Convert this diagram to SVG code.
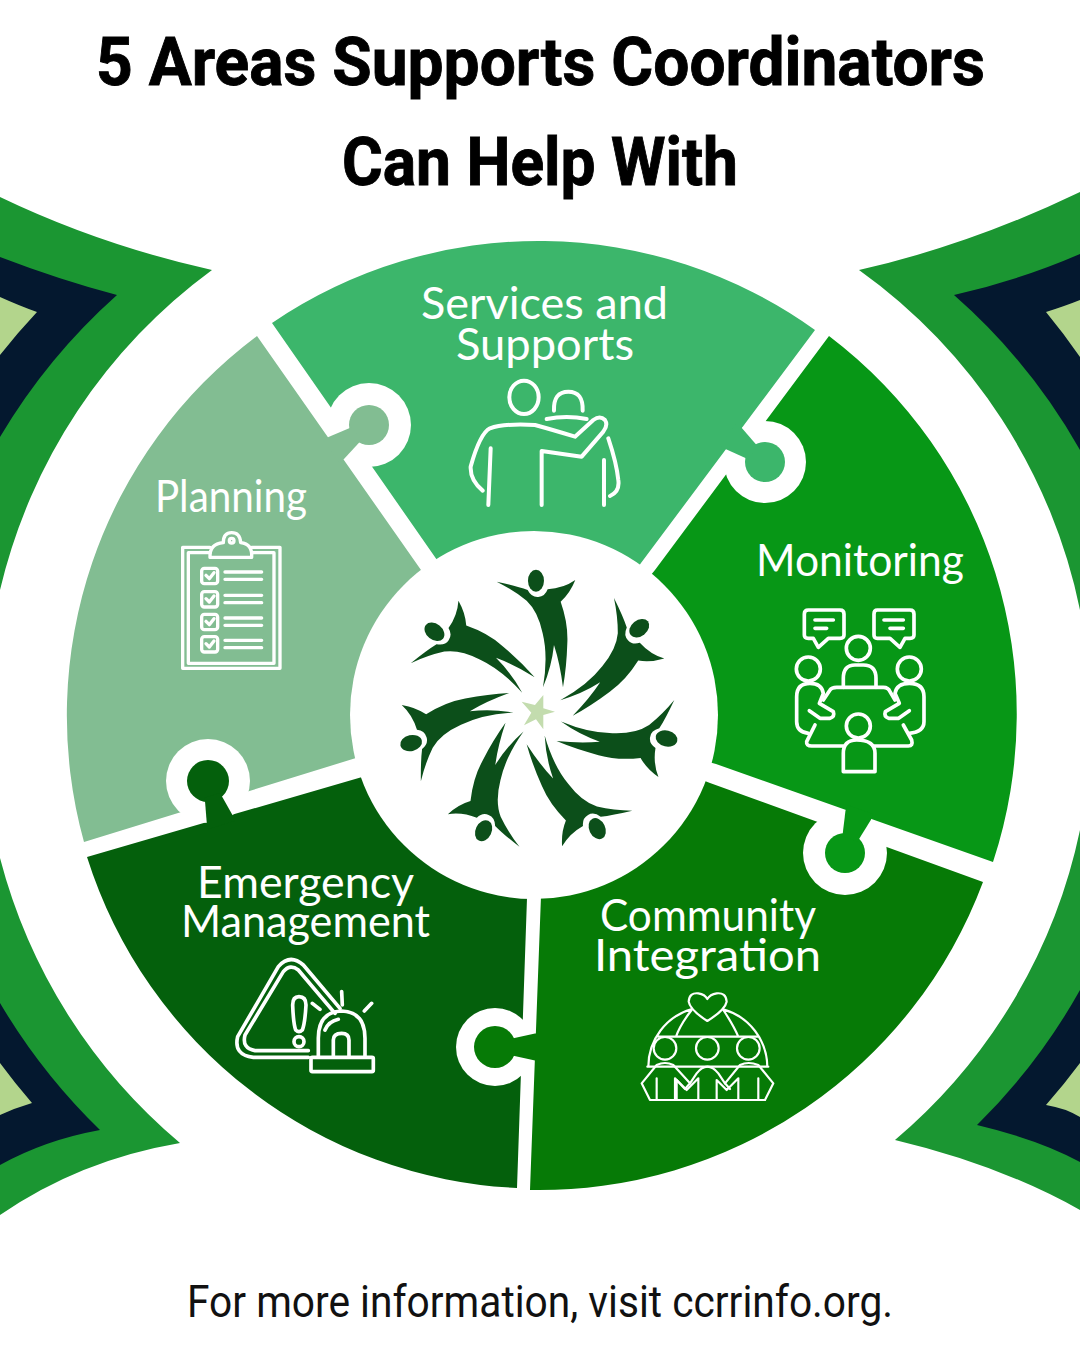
<svg xmlns="http://www.w3.org/2000/svg" xmlns:xlink="http://www.w3.org/1999/xlink" width="1080" height="1350" viewBox="0 0 1080 1350">
<style>
.title{font-family:"Roboto","Liberation Sans",sans-serif;font-weight:700;font-size:67px;fill:#000;stroke:#000;stroke-width:.9}
.foot{font-family:"Roboto","Liberation Sans",sans-serif;font-size:45px;fill:#111}
.lab{font-family:"Lato","Open Sans",sans-serif;font-size:45px;fill:#fff}
.ic{fill:none;stroke:#fff;stroke-linecap:round;stroke-linejoin:round}
.g{fill:#1b9632}.n{fill:#04182f}.p{fill:#b3d58c}
.person{fill:#0c4f1a}
</style>
<defs>
<g id="fig"><ellipse cx="558" cy="152" rx="24" ry="33"/><path d="M440,155Q500,168 533,180Q545,203 565,201Q585,200 593,178Q640,175 676,150Q660,190 632,215Q655,280 652,340Q650,410 639,472Q630,400 612,345Q605,410 579,472Q595,380 578,310Q565,245 530,212Q490,180 440,155Z"/></g>
<g id="row"><rect x="95" y="145" width="48" height="46" rx="8"/><path d="M108,166L118,176L132,158"/><path d="M165,156H275M165,178H275"/></g>
<path id="neck" d="M15,-8L40,-13.5H46V13.5H40L15,8Z"/>
</defs>
<g id="corners">
<path class="g" d="M0,197Q100,245 212,270A555,555 0 0 0 0,590Z"/>
<path class="n" d="M0,257Q60,280 117,295A600,600 0 0 0 0,437Z"/>
<path class="p" d="M0,297Q20,306 37,312A648,648 0 0 0 0,355Z"/>
<path class="g" d="M0,858A555,555 0 0 0 180,1143Q80,1160 0,1215Z"/>
<path class="n" d="M0,1003A608,608 0 0 0 100,1130Q45,1140 0,1165Z"/>
<path class="p" d="M0,1063A640,640 0 0 0 32,1103Q15,1108 0,1115Z"/>
<path class="g" d="M1080,192Q970,245 859,270A555,555 0 0 1 1080,610Z"/>
<path class="n" d="M1080,254Q1020,280 954,295A596,596 0 0 1 1080,450Z"/>
<path class="p" d="M1080,300Q1065,306 1046,312A647,647 0 0 1 1080,357Z"/>
<path class="g" d="M1080,830A555,555 0 0 1 895,1140Q1000,1165 1080,1210Z"/>
<path class="n" d="M1080,990A600,600 0 0 1 977,1125Q1040,1140 1080,1162Z"/>
<path class="p" d="M1080,1063A640,640 0 0 1 1046,1105Q1065,1108 1080,1117Z"/>
</g>
<g id="connectors">
</g>
<g id="node-services"><path fill="#3cb66b" d="M272,323A474,474 0 0 1 815,330L641,563L535,715L437,560Z"/></g>
<g id="node-monitoring"><path fill="#079716" d="M829,336A474,474 0 0 1 993,862L716,764L535,715L655,570Z"/></g>
<g id="node-community"><path fill="#067a06" d="M983,882A474,474 0 0 1 530,1190L541,896L535,715L710,783Z"/></g>
<g id="node-emergency"><path fill="#04600c" d="M517,1188A474,474 0 0 1 87,857L369,775L535,715L527,898Z"/></g>
<g id="node-planning"><path fill="#82bd92" d="M84,842A474,474 0 0 1 257,336L421,570L535,715L356,758Z"/></g>
<g id="tabs">
<circle cx="369" cy="425" r="42" fill="#fff"/><circle cx="765" cy="462" r="41" fill="#fff"/><circle cx="845" cy="853" r="42" fill="#fff"/><circle cx="495" cy="1047" r="39" fill="#fff"/><circle cx="208" cy="781" r="42" fill="#fff"/>
<g fill="#82bd92"><circle cx="369" cy="425" r="20"/><use xlink:href="#neck" href="#neck" transform="translate(369,425) rotate(145)"/></g>
<g fill="#3cb66b"><circle cx="765" cy="462" r="20"/><use xlink:href="#neck" href="#neck" transform="translate(765,462) rotate(217)"/></g>
<g fill="#079716"><circle cx="845" cy="853" r="20"/><use xlink:href="#neck" href="#neck" transform="translate(845,853) rotate(-70.7)"/></g>
<g fill="#067a06"><circle cx="495" cy="1047" r="21"/><use xlink:href="#neck" href="#neck" transform="translate(495,1047)"/></g>
<g fill="#04600c"><circle cx="208" cy="781" r="21"/><use xlink:href="#neck" href="#neck" transform="translate(208,781) rotate(73)"/></g>
</g>
<g id="node-hub">
<circle cx="534" cy="715" r="184" fill="#fff"/>
<g transform="translate(350,530) scale(.3333)" class="person">
<use xlink:href="#fig" href="#fig"/>
<use xlink:href="#fig" href="#fig" transform="rotate(51.43 565 545)"/>
<use xlink:href="#fig" href="#fig" transform="rotate(102.86 565 545)"/>
<use xlink:href="#fig" href="#fig" transform="rotate(154.29 565 545)"/>
<use xlink:href="#fig" href="#fig" transform="rotate(205.71 565 545)"/>
<use xlink:href="#fig" href="#fig" transform="rotate(257.14 565 545)"/>
<use xlink:href="#fig" href="#fig" transform="rotate(308.57 565 545)"/>
<path fill="#c3dcae" d="M580,495L580,535L615,545L580,555L580,598L558,568L522,586L544,548L515,515L555,525Z"/>
</g>
</g>
<text class="title" x="96" y="85" textLength="889" lengthAdjust="spacingAndGlyphs">5 Areas Supports Coordinators</text>
<text class="title" x="342" y="185" textLength="396" lengthAdjust="spacingAndGlyphs">Can Help With</text>
<text class="foot" x="187" y="1317" textLength="706" lengthAdjust="spacingAndGlyphs">For more information, visit ccrrinfo.org.</text>
<g id="label-services">
<text class="lab" x="421" y="319" textLength="247" lengthAdjust="spacingAndGlyphs">Services and</text>
<text class="lab" x="456" y="360" textLength="178" lengthAdjust="spacingAndGlyphs">Supports</text>
<g class="ic" transform="translate(450,370) scale(.3333)" stroke-width="12">
<ellipse cx="222" cy="82" rx="44" ry="50"/>
<path d="M312,122Q310,65 355,65Q400,65 398,122M290,147Q350,135 410,147"/>
<path d="M98,362Q60,330 62,290Q90,190 120,175Q160,160 255,165Q310,180 375,200L430,150Q450,135 465,150Q475,165 460,185L395,260L275,243V405"/>
<path d="M122,235L115,405M475,205Q500,280 505,330Q510,365 480,378M462,270V405"/>
</g>
</g>
<g id="label-planning">
<text class="lab" x="155" y="512" textLength="152" lengthAdjust="spacingAndGlyphs">Planning</text>
<g class="ic" transform="translate(170,520) scale(.3333)" stroke-width="10">
<path d="M120,82H38V445H330V82H245M120,98H55V430H312V98H245"/>
<path d="M120,112Q118,72 160,68Q160,38 185,38Q210,38 212,68Q248,72 245,112Z"/>
<circle cx="185" cy="62" r="7"/>
<use xlink:href="#row" href="#row"/>
<use xlink:href="#row" href="#row" y="70"/>
<use xlink:href="#row" href="#row" y="138"/>
<use xlink:href="#row" href="#row" y="205"/>
</g>
</g>
<g id="label-monitoring">
<text class="lab" x="756" y="576" textLength="208" lengthAdjust="spacingAndGlyphs">Monitoring</text>
<g class="ic" transform="translate(780,600) scale(.3333)" stroke-width="11">
<path d="M85,30H180Q192,30 192,42V105Q192,115 180,115H145L115,142L100,115H85Q73,115 73,105V42Q73,30 85,30ZM105,60H160M105,85H140"/>
<path d="M292,30H390Q402,30 402,42V105Q402,115 390,115H375L360,142L330,115H292Q282,115 282,105V42Q282,30 292,30ZM312,60H370M330,85H370"/>
<circle cx="235" cy="145" r="36"/><circle cx="85" cy="207" r="36"/><circle cx="388" cy="207" r="36"/><circle cx="235" cy="378" r="36"/>
<path d="M190,262V235Q190,195 225,195H250Q288,195 288,235V262"/>
<path d="M130,300L150,270Q155,262 170,262H310Q325,262 330,275L345,300M105,375L80,425Q78,438 95,438H190M280,438H385Q400,438 395,420L370,375"/>
<path d="M85,400Q50,395 50,365V290Q50,250 90,250Q125,250 130,280L118,310L160,335Q165,350 150,355H120L88,332"/>
<path d="M388,400Q432,395 432,365V290Q432,250 388,250Q350,250 345,280L358,310L316,335Q311,350 326,355H356L388,332"/>
<path d="M190,515V460Q190,420 230,420Q285,420 285,460V515Z"/>
</g>
</g>
<g id="label-community">
<text class="lab" x="600" y="931" textLength="216" lengthAdjust="spacingAndGlyphs">Community</text>
<text class="lab" x="594" y="971" textLength="227" lengthAdjust="spacingAndGlyphs">Integration</text>
<g class="ic" transform="translate(630,985) scale(.3333)" stroke-width="6.5">
<path d="M232,108Q180,75 176,50Q178,22 205,25Q225,28 232,42Q240,28 260,25Q288,22 290,50Q285,75 232,108Z"/>
<path d="M55,245A180,180 0 0 1 186,72M282,74A180,180 0 0 1 412,245M185,75Q150,120 138,155M280,75Q310,120 325,155M85,155H385M52,245H415"/>
<circle cx="105" cy="190" r="34"/><circle cx="232" cy="190" r="34"/><circle cx="355" cy="190" r="34"/>
<path d="M60,345H405M60,345L35,295L80,240Q105,228 130,240L180,295L165,312L135,280V345M80,280V345"/>
<path d="M140,345V285L170,315L205,280V345M180,295L200,265Q232,225 265,265L285,295M260,345V285L290,315L325,280V345"/>
<path d="M285,295L330,240Q355,228 385,240L430,295L405,345M300,312L285,295M385,280V345"/>
</g>
</g>
<g id="label-emergency">
<text class="lab" x="197" y="898" textLength="217" lengthAdjust="spacingAndGlyphs">Emergency</text>
<text class="lab" x="181" y="937" textLength="249" lengthAdjust="spacingAndGlyphs">Management</text>
<g class="ic" transform="translate(225,950) scale(.3333)" stroke-width="11">
<path d="M250,322H85Q25,315 38,260L160,50Q195,10 235,45L345,175"/>
<path d="M250,302H90Q50,295 60,255L175,65Q195,40 220,60L330,190"/>
<path d="M203,165Q203,140 222,140Q243,140 243,165Q240,220 232,240Q222,250 212,240Q205,220 203,165Z"/>
<circle cx="222" cy="275" r="15"/>
<path d="M280,320V265Q280,185 350,183Q420,185 420,265V320"/>
<rect x="258" y="322" width="187" height="43" rx="4"/>
<path d="M325,320V270Q325,250 350,250Q372,250 372,270V320M300,240Q310,215 340,208M350,125L352,165M418,183L440,160M262,160L285,178"/>
</g>
</g>
</svg>
